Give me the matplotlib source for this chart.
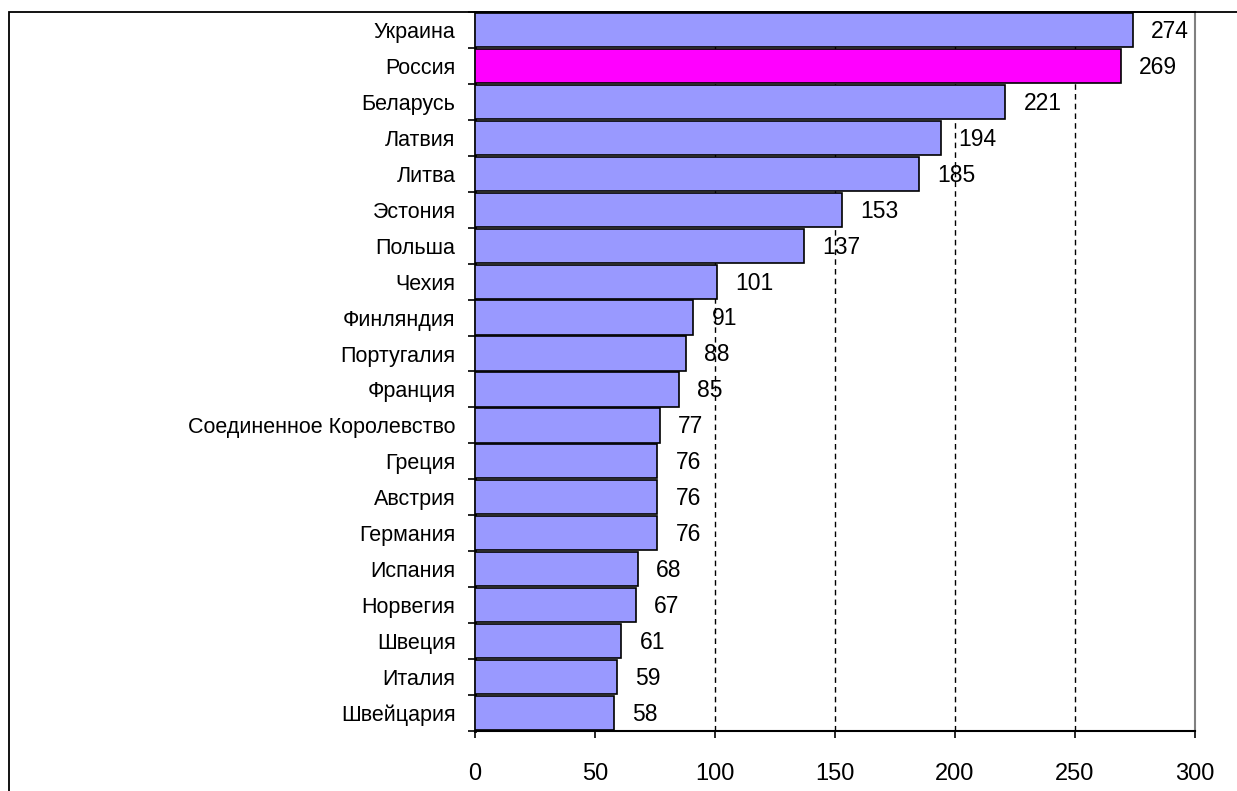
import matplotlib.pyplot as plt
from matplotlib.patches import Rectangle
from matplotlib.ticker import FixedLocator
import numpy as np

plt.rcParams["font.family"] = ["Liberation Sans", "DejaVu Sans"]

countries = [
    "Украина", "Россия", "Беларусь", "Латвия", "Литва", "Эстония", "Польша",
    "Чехия", "Финляндия", "Португалия", "Франция", "Соединенное Королевство",
    "Греция", "Австрия", "Германия", "Испания", "Норвегия", "Швеция",
    "Италия", "Швейцария",
]
values = [274, 269, 221, 194, 185, 153, 137, 101, 91, 88, 85, 77, 76, 76, 76,
          68, 67, 61, 59, 58]
highlight = "Россия"
xticks = [0, 50, 100, 150, 200, 250, 300]
gridlines = [100, 150, 200, 250]

base_color = "#9999FF"
hl_color = "#FF00FF"

fig = plt.figure(figsize=(12.37, 7.91), dpi=100)
ax = fig.add_axes([475 / 1237, 1 - 731 / 791, 720 / 1237, 719 / 791])

# outer chart frame (runs off the right and bottom edges)
fig.patches.append(Rectangle((9 / 1237, -0.05), 1.2, 1 - 12 / 791 + 0.05,
                             transform=fig.transFigure, fill=False,
                             edgecolor="black", linewidth=1.3, zorder=0))

for gx in gridlines:
    ax.axvline(gx, linestyle=(0, (4, 3)), color="black", linewidth=1.0,
               zorder=1)

y = np.arange(len(countries))
colors = [hl_color if c == highlight else base_color for c in countries]
ax.barh(y, values, height=0.95, color=colors, edgecolor="black",
        linewidth=1.2, zorder=3)

for yi, v in zip(y, values):
    ax.annotate(str(v), (v, yi), xytext=(13, -1), textcoords="offset points",
                ha="left", va="center", fontsize=16.5, zorder=4)

ax.set_xlim(0, 300)
ax.set_ylim(len(countries) - 0.5, -0.5)
ax.set_xticks(xticks)
ax.tick_params(axis="x", direction="out", length=5, width=1.2,
               labelsize=17, pad=18)
ax.set_yticks(y)
ax.set_yticklabels(countries)
ax.tick_params(axis="y", which="major", length=0, labelsize=15.5, pad=14)
ax.yaxis.set_minor_locator(FixedLocator(np.arange(len(countries) + 1) - 0.5))
ax.tick_params(axis="y", which="minor", direction="out", length=5, width=1.2)

ax.spines["left"].set_linewidth(2)
ax.spines["bottom"].set_linewidth(1.5)
ax.spines["top"].set_linewidth(1.3)
ax.spines["right"].set_color("#808080")
ax.spines["right"].set_linewidth(1.5)

fig.savefig("out.png", dpi=100)
